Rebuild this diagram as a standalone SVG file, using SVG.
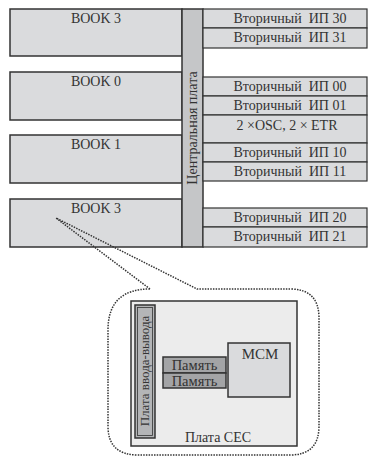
<svg xmlns="http://www.w3.org/2000/svg" width="368" height="459" viewBox="0 0 368 459">
<style>
.book{fill:#dadbdd;stroke:#333;stroke-width:1.5}
.cell{fill:#dadbdd;stroke:#333;stroke-width:1.2}
.lbl{font-family:'Liberation Serif','Times New Roman',Times,serif;font-size:14px;text-anchor:middle;fill:#333}
.sm{font-family:'Liberation Serif','Times New Roman',Times,serif;font-size:14px;text-anchor:middle;fill:#333;white-space:pre}
.dot{fill:none;stroke:#333;stroke-width:1.5;stroke-dasharray:1.5 1.2}
</style>
<rect width="368" height="459" fill="#fff"/>
<g id="book3top"><rect class="book" x="10" y="9" width="172" height="47"/><text class="lbl" x="96" y="23">BOOK 3</text></g>
<g id="book0"><rect class="book" x="10" y="72" width="172" height="48"/><text class="lbl" x="96" y="86">BOOK 0</text></g>
<g id="book1"><rect class="book" x="10" y="135" width="172" height="48"/><text class="lbl" x="96" y="149">BOOK 1</text></g>
<g id="book3bot"><rect class="book" x="10" y="199" width="172" height="48"/><text class="lbl" x="96" y="213">BOOK 3</text></g>
<g id="central"><rect x="182" y="9" width="21" height="238" fill="#c5c6c8" stroke="#333" stroke-width="1.5"/><text class="sm" transform="translate(197,128) rotate(-90)">Центральная плата</text></g>
<g id="ip30"><rect class="cell" x="203" y="9" width="164" height="19"/><text class="sm" x="290" y="23">Вторичный  ИП 30</text></g>
<g id="ip31"><rect class="cell" x="203" y="28" width="164" height="20"/><text class="sm" x="290" y="42">Вторичный  ИП 31</text></g>
<g id="ip00"><rect class="cell" x="203" y="77" width="164" height="19"/><text class="sm" x="290" y="91">Вторичный  ИП 00</text></g>
<g id="ip01"><rect class="cell" x="203" y="96" width="164" height="19"/><text class="sm" x="290" y="110">Вторичный  ИП 01</text></g>
<g id="osc"><rect class="cell" x="203" y="115" width="164" height="28"/><text class="sm" x="287" y="130">2 ×OSC, 2 × ETR</text></g>
<g id="ip10"><rect class="cell" x="203" y="143" width="164" height="19"/><text class="sm" x="290" y="157">Вторичный  ИП 10</text></g>
<g id="ip11"><rect class="cell" x="203" y="162" width="164" height="19"/><text class="sm" x="290" y="176">Вторичный  ИП 11</text></g>
<g id="ip20"><rect class="cell" x="203" y="208" width="164" height="19"/><text class="sm" x="290" y="222">Вторичный  ИП 20</text></g>
<g id="ip21"><rect class="cell" x="203" y="227" width="164" height="20"/><text class="sm" x="290" y="241">Вторичный  ИП 21</text></g>
<g id="connectors">
<path class="dot" d="M150,289 L56,218 L197,289 L290,289 Q319,289 319,318 L319,426 Q319,455 290,455 L138,455 Q108,455 108,426 L108,330 Q108,289 150,289"/>
</g>
<g id="cec"><rect x="131" y="301" width="166" height="145" fill="#ececec" stroke="#333" stroke-width="1.5"/><text class="sm" x="218" y="442">Плата СЕС</text></g>
<g id="io"><rect x="135" y="305" width="20" height="133" fill="#b4b5b7" stroke="#333" stroke-width="1.5"/><rect x="137.5" y="307.5" width="15" height="128" fill="none" stroke="#333" stroke-width="0.8"/><text class="sm" transform="translate(149,371) rotate(-90)" style="font-size:13px">Плата ввода-вывода</text></g>
<g id="mcm"><rect x="228" y="343" width="62" height="54" fill="#dadbdd" stroke="#333" stroke-width="1.5"/><text class="sm" x="260" y="359" style="font-size:15px">MCM</text></g>
<g id="mem1"><rect x="163" y="357" width="63" height="16" fill="#a3a4a6" stroke="#333" stroke-width="1.5"/><text class="sm" x="194.5" y="370" style="font-size:14.5px">Память</text></g>
<g id="mem2"><rect x="163" y="373" width="63" height="15" fill="#a3a4a6" stroke="#333" stroke-width="1.5"/><text class="sm" x="194.5" y="385.5" style="font-size:14.5px">Память</text></g>
</svg>
